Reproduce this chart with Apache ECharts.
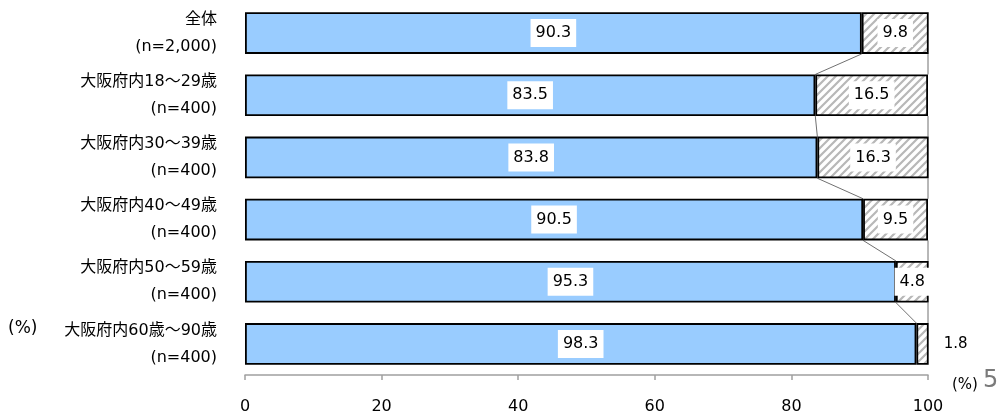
<!DOCTYPE html>
<html>
<head>
<meta charset="utf-8">
<script src="https://cdn.jsdelivr.net/npm/echarts@6/dist/echarts.min.js"></script>
<style>
  html, body { margin: 0; padding: 0; background: #fff; }
  #chart { width: 997px; height: 415px; }
</style>
</head>
<body>
<div id="chart"></div>
<script>
// Age groups and sample sizes
const groups = ['全体', '大阪府内18～29歳', '大阪府内30～39歳', '大阪府内40～49歳', '大阪府内50～59歳', '大阪府内60歳～90歳'];
const sampleSizes = ['(n=2,000)', '(n=400)', '(n=400)', '(n=400)', '(n=400)', '(n=400)'];
// Share of respondents (%)
const solidValues = [90.3, 83.5, 83.8, 90.5, 95.3, 98.3];
const hatchedValues = [9.8, 16.5, 16.3, 9.5, 4.8, 1.8];
const xTicks = [0, 20, 40, 60, 80, 100];

const FONT = '"DejaVu Sans", "Noto Sans CJK JP", sans-serif';
const BAR_RATIO = 0.67;

// Diagonal stripe fill for the second segment
function stripePattern() {
  const c = document.createElement('canvas');
  c.width = 8; c.height = 8;
  const g = c.getContext('2d');
  g.fillStyle = '#ffffff';
  g.fillRect(0, 0, 8, 8);
  g.strokeStyle = '#b8b8b8';
  g.lineWidth = 2.2;
  g.beginPath();
  g.moveTo(-2, 10); g.lineTo(10, -2);
  g.moveTo(-6, 6); g.lineTo(6, -6);
  g.moveTo(2, 14); g.lineTo(14, 2);
  g.stroke();
  return c;
}

const boxLabel = {
  show: true,
  position: 'inside',
  color: '#000',
  fontFamily: FONT,
  fontSize: 16,
  lineHeight: 18,
  backgroundColor: '#fff',
  padding: [5, 5, 5, 5]
};

const hatchedData = hatchedValues.map((v, i) => {
  if (v < 3) {
    return { value: v, label: { position: 'right', distance: 10, backgroundColor: 'transparent', fontSize: 15 } };
  }
  return v;
});

// Connector segments between neighbouring bars
const connectorData = [];
for (let i = 0; i < groups.length - 1; i++) {
  connectorData.push([i, solidValues[i], solidValues[i + 1], solidValues[i] + hatchedValues[i], solidValues[i + 1] + hatchedValues[i + 1]]);
}

const chart = echarts.init(document.getElementById('chart'));
chart.setOption({
  animation: false,
  grid: { left: 245, right: 69, top: 2, bottom: 38 },
  xAxis: {
    type: 'value',
    min: 0, max: 100, interval: 20,
    axisLine: { show: true, lineStyle: { color: '#a0a0a0', width: 1.5 } },
    axisTick: { show: true, length: 5, lineStyle: { color: '#a0a0a0', width: 1.5 } },
    splitLine: { show: false },
    axisLabel: {
      color: '#000', fontFamily: FONT, fontSize: 16, margin: 24,
      formatter: v => xTicks.includes(v) ? String(v) : ''
    }
  },
  yAxis: {
    type: 'category',
    inverse: true,
    data: groups,
    axisLine: { show: false },
    axisTick: { show: false },
    axisLabel: {
      color: '#000', fontFamily: FONT, fontSize: 16, lineHeight: 27, margin: 28,
      align: 'right',
      formatter: (val, idx) => val + '\n' + sampleSizes[idx]
    }
  },
  series: [
    {
      type: 'bar', stack: 'total', data: solidValues,
      barCategoryGap: '33%',
      itemStyle: { color: '#99ccff', borderColor: '#000', borderWidth: 1.8 },
      label: Object.assign({}, boxLabel, { formatter: p => p.value.toFixed(1) })
    },
    {
      type: 'bar', stack: 'total', data: hatchedData,
      itemStyle: { color: { image: stripePattern(), repeat: 'repeat' }, borderColor: '#000', borderWidth: 1.8 },
      label: Object.assign({}, boxLabel, { formatter: p => Number(p.value).toFixed(1) })
    },
    {
      type: 'custom',
      data: connectorData,
      z: 1,
      silent: true,
      renderItem: (params, api) => {
        const i = api.value(0);
        const band = api.size([0, 1])[1];
        const half = band * BAR_RATIO / 2;
        const a1 = api.coord([api.value(1), i]);
        const a2 = api.coord([api.value(2), i + 1]);
        const b1 = api.coord([Math.min(api.value(3), 100), i]);
        const b2 = api.coord([Math.min(api.value(4), 100), i + 1]);
        const style = { stroke: '#707070', lineWidth: 1 };
        return {
          type: 'group',
          children: [
            { type: 'line', shape: { x1: a1[0], y1: a1[1] + half, x2: a2[0], y2: a2[1] - half }, style },
            { type: 'line', shape: { x1: b1[0], y1: b1[1] + half, x2: b2[0], y2: b2[1] - half }, style }
          ]
        };
      }
    }
  ],
  graphic: [
    { type: 'text', left: 8, top: 320, style: { text: '(%)', font: '17px ' + FONT, fill: '#000' } },
    { type: 'text', left: 952, top: 378, style: { text: '(%)', font: '15px ' + FONT, fill: '#000' } },
    { type: 'text', left: 983, top: 369, style: { text: '5', font: '24px ' + FONT, fill: '#7a7a7a' } }
  ]
});
</script>
</body>
</html>
